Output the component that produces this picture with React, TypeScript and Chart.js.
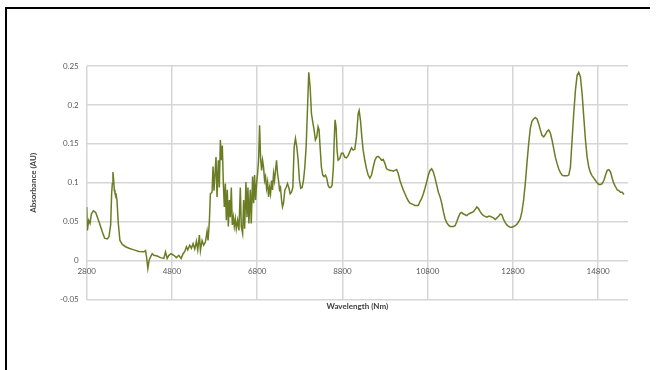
import React, { useEffect, useRef } from "react";
import { Chart, registerables } from "chart.js";

Chart.register(...registerables);

const wavelength: number[] = [
  2800, 2816, 2847, 2878, 2909, 2956, 3011, 3089, 3167, 3221, 3284, 3323, 3362, 3385, 3401, 3416, 3432, 3447, 3463, 3486,
  3510, 3541, 3580, 3635, 3713, 3791, 3908, 4025, 4142, 4181, 4204, 4235, 4266, 4298, 4337, 4376, 4454, 4532, 4610, 4649,
  4688, 4727, 4781, 4844, 4906, 4961, 5015, 5062, 5101, 5140, 5171, 5218, 5257, 5296, 5335, 5374, 5405, 5444, 5468, 5507,
  5546, 5585, 5624, 5647, 5678, 5702, 5741, 5764, 5787, 5811, 5834, 5858, 5889, 5912, 5936, 5959, 5982, 6006, 6029, 6053,
  6076, 6099, 6123, 6146, 6170, 6193, 6216, 6240, 6263, 6287, 6310, 6341, 6372, 6404, 6427, 6458, 6482, 6505, 6536, 6560,
  6583, 6606, 6638, 6661, 6692, 6716, 6739, 6762, 6786, 6809, 6833, 6856, 6879, 6903, 6926, 6950, 6973, 6996, 7020, 7043,
  7067, 7090, 7113, 7137, 7160, 7184, 7207, 7230, 7254, 7277, 7301, 7324, 7347, 7371, 7394, 7418, 7449, 7480, 7511, 7542,
  7574, 7605, 7636, 7667, 7698, 7730, 7761, 7792, 7823, 7854, 7886, 7917, 7948, 7979, 8010, 8042, 8073, 8104, 8135, 8166,
  8198, 8229, 8252, 8276, 8307, 8338, 8370, 8401, 8432, 8463, 8494, 8526, 8557, 8588,
  8604, 8627, 8651, 8674, 8698, 8737, 8776, 8816, 8855, 8894, 8933, 8973, 9012, 9051, 9090, 9129, 9169, 9192, 9224, 9255,
  9286, 9325, 9365, 9404, 9443, 9482, 9522, 9561, 9600, 9639, 9678, 9718, 9757, 9796, 9835, 9874, 9914, 9953, 9992, 10031,
  10071, 10110, 10149, 10188, 10227, 10267, 10306, 10345, 10384, 10424, 10463, 10502, 10541, 10580, 10620, 10659, 10698, 10737, 10776, 10816,
  10855, 10894, 10933, 10973, 11012, 11051, 11090, 11129, 11169, 11208, 11247, 11286, 11325, 11365, 11404, 11443, 11482, 11522, 11561, 11600,
  11639, 11678, 11718, 11757, 11796, 11835, 11874, 11914, 11953, 11992, 12031, 12071, 12110, 12149, 12188, 12227, 12267, 12306, 12345, 12384,
  12424, 12463, 12502, 12541, 12580, 12620, 12659, 12698, 12737, 12776, 12816, 12855, 12894, 12933, 12973, 13012, 13051, 13090, 13129, 13169,
  13208, 13247, 13286, 13325, 13365, 13404, 13443, 13482, 13522, 13561, 13600, 13639, 13678, 13718, 13757, 13796, 13835, 13874, 13914, 13953,
  13992, 14031, 14071, 14110, 14149, 14188, 14227, 14267, 14306, 14345, 14384, 14424, 14463, 14502, 14541, 14580, 14620, 14659, 14698, 14737,
  14776, 14816, 14855, 14894, 14933, 14973, 15012, 15051, 15090, 15129, 15169, 15208, 15247, 15286, 15325, 15365, 15404,
];

const absorbance: number[] = [
  0.069, 0.039, 0.052, 0.048, 0.060, 0.064, 0.062, 0.050, 0.037, 0.029, 0.028, 0.031, 0.046, 0.086, 0.099, 0.114, 0.104, 0.091, 0.087, 0.086,
  0.078, 0.048, 0.026, 0.021, 0.018, 0.016, 0.014, 0.012, 0.0115, 0.013, 0.005, -0.010, 0.001, 0.005, 0.009, 0.007, 0.006, 0.004, 0.003, 0.0115,
  0.003, 0.007, 0.009, 0.007, 0.004, 0.007, 0.003, 0.009, 0.012, 0.018, 0.014, 0.020, 0.016, 0.022, 0.015, 0.025, 0.014, 0.033, 0.013, 0.026,
  0.020, 0.024, 0.038, 0.026, 0.050, 0.086, 0.088, 0.121, 0.090, 0.112, 0.133, 0.082, 0.129, 0.094, 0.155, 0.129, 0.148, 0.099, 0.069, 0.099,
  0.052, 0.091, 0.044, 0.078, 0.056, 0.094, 0.046, 0.056, 0.044, 0.054, 0.041, 0.052, 0.039, 0.094, 0.044, 0.035, 0.078, 0.041, 0.101, 0.056,
  0.094, 0.048, 0.091, 0.048, 0.108, 0.074, 0.110, 0.078, 0.099, 0.112, 0.129, 0.174, 0.133, 0.116, 0.129, 0.120, 0.103, 0.108, 0.093, 0.101,
  0.082, 0.094, 0.086, 0.103, 0.091, 0.112, 0.103, 0.116, 0.129, 0.112, 0.103, 0.091, 0.094, 0.078, 0.069, 0.074, 0.091, 0.094, 0.099, 0.094,
  0.086, 0.088, 0.094, 0.146, 0.157, 0.146, 0.129, 0.103, 0.093, 0.094, 0.103, 0.120, 0.146, 0.193, 0.242, 0.223, 0.189, 0.178, 0.168, 0.155,
  0.159, 0.172, 0.168, 0.146, 0.120, 0.110, 0.108, 0.110, 0.106, 0.097, 0.094, 0.094, 0.097, 0.120,
  0.150, 0.181, 0.172, 0.142, 0.129, 0.131, 0.138, 0.138, 0.133, 0.132, 0.135, 0.140, 0.145, 0.142, 0.143, 0.159, 0.189, 0.193, 0.180, 0.159,
  0.142, 0.129, 0.118, 0.110, 0.106, 0.110, 0.120, 0.129, 0.133, 0.134, 0.132, 0.129, 0.130, 0.125, 0.118, 0.117, 0.116, 0.116, 0.115, 0.116,
  0.117, 0.112, 0.103, 0.097, 0.091, 0.086, 0.081, 0.077, 0.074, 0.073, 0.072, 0.071, 0.071, 0.071, 0.076, 0.080, 0.086, 0.093, 0.101, 0.110,
  0.116, 0.118, 0.114, 0.106, 0.097, 0.088, 0.082, 0.074, 0.063, 0.054, 0.049, 0.046, 0.044, 0.044, 0.044, 0.045, 0.050, 0.056, 0.061, 0.062,
  0.060, 0.059, 0.058, 0.060, 0.061, 0.062, 0.063, 0.066, 0.069, 0.067, 0.063, 0.060, 0.058, 0.057, 0.056, 0.057, 0.057, 0.056, 0.055, 0.053,
  0.055, 0.057, 0.060, 0.059, 0.053, 0.049, 0.046, 0.044, 0.043, 0.043, 0.044, 0.045, 0.047, 0.050, 0.054, 0.063, 0.078, 0.099, 0.125, 0.150,
  0.170, 0.179, 0.182, 0.184, 0.182, 0.176, 0.168, 0.161, 0.159, 0.162, 0.166, 0.168, 0.164, 0.155, 0.144, 0.133, 0.125, 0.118, 0.113, 0.110,
  0.109, 0.109, 0.109, 0.110, 0.120, 0.155, 0.189, 0.219, 0.238, 0.242, 0.236, 0.214, 0.184, 0.155, 0.133, 0.120, 0.113, 0.109, 0.106, 0.103,
  0.100, 0.098, 0.098, 0.099, 0.103, 0.110, 0.116, 0.117, 0.114, 0.106, 0.099, 0.095, 0.091, 0.090, 0.088, 0.088, 0.085,
];

const xTicks: number[] = [2800, 4800, 6800, 8800, 10800, 12800, 14800];
const yTicks: number[] = [-0.05, 0, 0.05, 0.1, 0.15, 0.2, 0.25];
const xTitle = "Wavelength (Nm)";
const yTitle = "Absorbance (AU)";

export default function App() {
  const canvasRef = useRef<HTMLCanvasElement | null>(null);

  useEffect(() => {
    if (!canvasRef.current) return;
    const points = wavelength.map((w, i) => ({ x: w, y: absorbance[i] }));
    const tickFont = { family: "Lato", size: 8 };
    const titleFont = { family: "Lato", size: 8, weight: "bold" as const };
    const gridColor = "#d6d6d6";
    const chart = new Chart(canvasRef.current, {
      type: "line",
      data: {
        datasets: [
          {
            data: points,
            borderColor: "#6a7d24",
            borderWidth: 1.5,
            pointRadius: 0,
            tension: 0,
            fill: false,
          },
        ],
      },
      options: {
        animation: false,
        responsive: false,
        maintainAspectRatio: false,
        layout: { padding: { left: 24, top: 66, right: 32, bottom: 58.7 } },
        plugins: { legend: { display: false }, tooltip: { enabled: false } },
        scales: {
          x: {
            type: "linear",
            position: { y: 0 } as any,
            min: 2800,
            max: 15500,
            afterBuildTicks: (scale: any) => {
              scale.ticks = xTicks.map((v) => ({ value: v }));
            },
            grid: { color: gridColor, lineWidth: 1.5, drawTicks: false },
            border: { display: false },
            ticks: {
              font: tickFont,
              color: "#595959",
              padding: 6,
              maxRotation: 0,
              autoSkip: false,
              callback: (v: any) => String(v),
            },
          },
          xt: {
            type: "linear",
            position: "bottom",
            grid: { display: false, drawTicks: false },
            border: { display: false },
            ticks: { display: false },
            title: {
              display: true,
              text: xTitle,
              font: titleFont,
              color: "#404040",
              padding: { top: 2, bottom: 0 },
            },
          },
          y: {
            type: "linear",
            position: "left",
            min: -0.05,
            max: 0.25,
            afterBuildTicks: (scale: any) => {
              scale.ticks = yTicks.map((v) => ({ value: v }));
            },
            afterFit: (scale: any) => {
              scale.width = 62.7;
            },
            grid: { color: gridColor, lineWidth: 1.5, drawTicks: false },
            border: { display: false },
            ticks: {
              font: tickFont,
              color: "#595959",
              padding: 8,
              callback: (v: any) => String(Number(Number(v).toFixed(2))),
            },
            title: {
              display: true,
              text: yTitle,
              font: titleFont,
              color: "#404040",
              padding: { top: 4.2, bottom: 0 },
            },
          },
        },
      },
    });
    return () => chart.destroy();
  }, []);

  return (
    <div style={{ position: "fixed", left: 0, top: 0, width: 660, height: 370, background: "#fff" }}>
      <canvas ref={canvasRef} width={660} height={370} style={{ position: "absolute", left: 0, top: 0 }} />
      <div
        style={{
          position: "absolute",
          left: 5,
          top: 7,
          width: 645,
          height: 380,
          borderTop: "2px solid #000",
          borderLeft: "2px solid #000",
          boxSizing: "border-box",
          pointerEvents: "none",
        }}
      />
    </div>
  );
}
